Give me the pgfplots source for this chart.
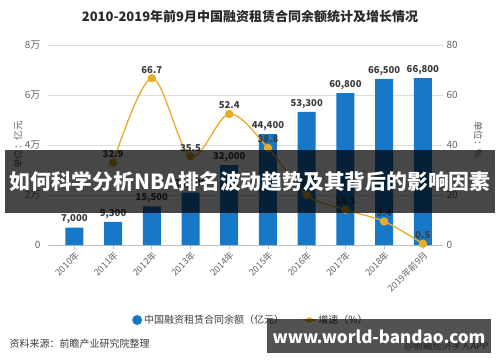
\documentclass[border=0pt]{standalone}
\usepackage{pgfplots}
\pgfplotsset{compat=1.18}
\usepackage{fontspec}
\setmainfont{Noto Sans CJK SC}
\definecolor{barblue}{RGB}{24,120,200}
\definecolor{goldcol}{RGB}{232,172,40}
\definecolor{labcol}{RGB}{60,60,60}
\definecolor{tickcol}{RGB}{100,100,100}
\definecolor{gridcol}{RGB}{222,222,222}
\definecolor{axiscol}{RGB}{190,190,190}
\definecolor{titlecol}{RGB}{40,40,40}
\begin{document}
\begin{tikzpicture}[x=1pt,y=1pt]
\fill[white] (0,0) rectangle (500,362);
\useasboundingbox (0,0) rectangle (500,362);
\node[font=\bfseries\fontsize{13}{13}\selectfont, text=titlecol] at (250,345) {2010-2019年前9月中国融资租赁合同余额统计及增长情况};
\begin{axis}[
  at={(48pt,117pt)}, anchor=south west, scale only axis, width=395pt, height=200pt,
  xmin=-0.68, xmax=9.52, ymin=0, ymax=80000,
  axis y line*=left, axis x line*=bottom,
  y axis line style={draw=none},
  x axis line style={draw=axiscol, line width=0.8pt, -},
  ytick={0,20000,40000,60000,80000}, yticklabels={0,2万,4万,6万,8万},
  ytick style={draw=none},
  xtick={0,...,9},
  xticklabels={2010年,2011年,2012年,2013年,2014年,2015年,2016年,2017年,2018年,2019年前9月},
  x tick style={draw=axiscol, line width=0.6pt},
  tick align=outside, major tick length=4pt,
  x tick label style={rotate=45, anchor=north east, font=\fontsize{9}{9}\selectfont, text=tickcol, inner sep=1pt},
  y tick label style={font=\fontsize{10}{10}\selectfont, text=tickcol},
  ymajorgrids, grid style={draw=gridcol, line width=0.6pt},
  scaled y ticks=false,
  ylabel={单位：亿元},
  ylabel style={at={(axis description cs:-0.076,0.5)}, anchor=center, font=\fontsize{9.5}{9.5}\selectfont, text=tickcol},
  /pgf/number format/assume math mode=true,
  /pgf/number format/1000 sep={,},
  ybar, bar width=18pt,
  legend columns=2,
  legend style={at={(axis description cs:0.205,-0.375)}, anchor=west, draw=none, fill=none,
    font=\fontsize{10}{10}\selectfont, text=labcol,
    /tikz/every even column/.append style={column sep=16pt}},
]
\addplot[fill=barblue, draw=none,
  nodes near coords,
  nodes near coords style={font=\bfseries\fontsize{9.5}{9.5}\selectfont, text=labcol},
  legend image code/.code={\fill[barblue] (0.15cm,0) circle (5pt);}]
  coordinates {(0,7000) (1,9300) (2,15500) (3,21000) (4,32000) (5,44400) (6,53300) (7,60800) (8,66500) (9,66800)};
\addlegendentry{中国融资租赁合同余额（亿元）}
\addlegendimage{legend image code/.code={\draw[goldcol, line width=1.5pt] (0,0)--(0.45cm,0); \fill[goldcol] (0.225cm,0) circle (2.5pt);}}
\addlegendentry{增速（\%）}
\end{axis}
\begin{axis}[
  at={(48pt,117pt)}, anchor=south west, scale only axis, width=395pt, height=200pt,
  xmin=-0.68, xmax=9.52, ymin=0, ymax=80,
  axis y line*=right, axis x line=none,
  y axis line style={draw=none},
  ytick={0,20,40,60,80}, ytick style={draw=none},
  y tick label style={font=\fontsize{10}{10}\selectfont, text=tickcol},
  ylabel={单位：\%},
  ylabel style={at={(axis description cs:1.089,0.525)}, anchor=center, rotate=180, font=\fontsize{9.5}{9.5}\selectfont, text=tickcol},
  /pgf/number format/assume math mode=true,
]
\addplot[goldcol, line width=1.3pt, smooth, tension=0.55, mark=*, mark size=3.5pt,
  mark options={fill=goldcol, draw=goldcol},
  nodes near coords, point meta=explicit symbolic,
  nodes near coords style={font=\bfseries\fontsize{9.5}{9.5}\selectfont, text=labcol, anchor=south, yshift=1pt}]
  coordinates {(1,32.9)[32.9] (2,66.7)[66.7] (3,35.5)[35.5] (4,52.4)[52.4] (5,38.8)[38.8] (6,20.0)[20.0] (7,14.1)[14.1] (8,9.4)[9.4] (9,0.5)[0.5]};
\end{axis}
\node[anchor=west, font=\fontsize{10}{10}\selectfont, text=labcol] at (6,18) {资料来源：前瞻产业研究院整理};
\node[anchor=east, font=\fontsize{9.5}{9.5}\selectfont, text=tickcol] at (492,16) {@前瞻经济学人APP};
\fill[black, opacity=0.72] (5,149) rectangle (495,212);
\node[font=\bfseries\fontsize{20.8}{20.8}\selectfont, text=white] at (250,180) {如何科学分析NBA排名波动趋势及其背后的影响因素};
\fill[black, opacity=0.68] (267,9) rectangle (491,43);
\node[font=\bfseries\fontsize{17}{17}\selectfont, text=white] at (379,25) {www.world-bandao.com};
\end{tikzpicture}
\end{document}
